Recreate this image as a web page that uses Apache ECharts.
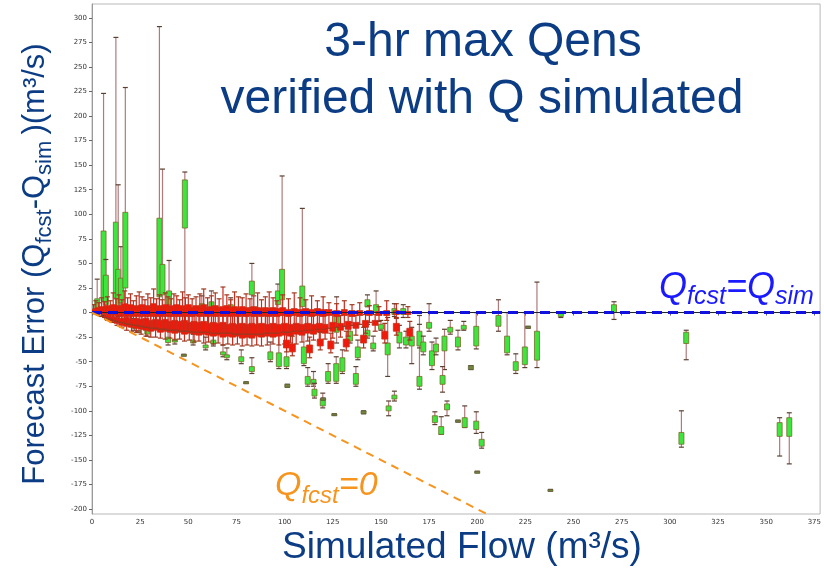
<!DOCTYPE html>
<html>
<head>
<meta charset="utf-8">
<script src="https://cdn.jsdelivr.net/npm/echarts@6/dist/echarts.min.js"></script>
<style>
  html, body { margin: 0; padding: 0; background: #fff; }
  #main { width: 824px; height: 569px; }
</style>
</head>
<body>
<div id="main"></div>
<script>
// tick labels
var xTicks = [0, 25, 50, 75, 100, 125, 150, 175, 200, 225, 250, 275, 300, 325, 350, 375];
var yTicks = [-200, -175, -150, -125, -100, -75, -50, -25, 0, 25, 50, 75, 100, 125, 150, 175, 200, 225, 250, 275, 300];

// ensemble boxes: [Qsim, min, q1, q3, max]
var greenBoxes = [
    [2.7, -2, 3, 14, 34], [6.0, -3, 12, 83, 223], [7.2, 0, 8, 38, 54],
    [12.4, 0, 15, 92, 280], [13.6, -4, 6, 44, 130], [15.0, 2, 10, 35, 67],
    [17.3, 0, 25, 102, 229], [35.0, 2, 16, 96, 291], [36.6, 0, 18, 49, 146],
    [40.0, -3, 8, 22, 53], [48.2, 5, 86, 135, 143], [83.0, 5, 18, 32, 50],
    [96.5, 0, 8, 22, 29], [98.7, 2, 13, 44, 139], [109.2, 0, 6, 27, 106],
    [127, -31, -20, -3, 16], [57, 0, 3, 9, 17], [62, 1, 4, 11, 22], [72, 0, 3, 8, 15],
    [22, -18, -16, -12, -6], [28.7, -24, -22, -17, -12], [39.5, -33, -30.5, -25, -18],
    [43, -32, -30, -27, -20], [52.5, -33, -31, -28, -22], [59, -38, -36, -33, -25],
    [63, -34, -32, -28, -20], [68, -45, -43, -40, -33], [70, -48, -46, -43, -36],
    [77.5, -52, -50, -45, -38], [83, -62, -60, -55, -46], [92.6, -50, -48, -40, -30],
    [97, -57, -55, -41, -17], [101, -57, -55, -45, -35], [110, -54, -52, -35, -20],
    [112, -75, -73, -65, -56], [115, -75, -73, -68, -60], [115.5, -87, -85, -78, -72],
    [119.8, -97, -95, -88, -82], [122.6, -72, -70, -60, -52], [126.8, -72, -70, -52, -45],
    [130, -62, -60, -46, -38], [134, -31, -29, -19, -10], [137, -75, -73, -62, -55],
    [138, -48, -46, -35, -28], [143, 6, 6, 13, 18], [143, -26, -24, -18, -12],
    [146, -39, -37, -31, -24], [147.5, -2, 1, 8, 22], [150, -18, -17, -12, -8],
    [153.5, -65, -43, -31, -5], [154, -105, -100, -95, -90], [157, -90, -88, -84, -80],
    [157, -4, -2, 4, 9], [159.6, -36, -31, -20, -13], [161.6, -5, -2, 4, 8],
    [163, -36, -33, -25, -19], [166, -52, -34, -24, -15], [170, -78, -75, -65, -3],
    [170, -36, -34, -19, -12], [172, -43, -40, -30, -24], [175, -19, -16, -10, 9],
    [176.5, -58, -54, -39, -30], [178, -114, -112, -105, -101], [178.6, -43, -40, -32, -26],
    [181.3, -124, -124, -116, -106], [183, -58, -39, -24, -17], [182, -81, -73, -64, -55],
    [184.3, -105, -99, -93, -90], [186, -22, -20, -15, -8], [190, -38, -35, -25, -18],
    [193.5, -117, -117, -107, -95], [193, -18, -17, -13, -9], [199.5, -37, -34, -14, 0],
    [199.5, -123, -119, -110.5, -101], [202.3, -138, -136, -129, -122],
    [211, -19, -14, -3, 13], [215.5, -43, -41, -24, 0], [220, -62, -59, -50, -42],
    [224.7, -56, -53, -35, 0], [231, -56, -48.5, -19, 31], [243.4, -5, -4, -1, 1],
    [271, -7, 0, 8, 11], [306, -137, -134, -122, -100], [308.5, -48, -31.5, -20, -18],
    [357, -146, -126, -112, -107], [362, -154, -126, -107, -102]
];

// single-member (tiny) boxes
var tinyBoxes = [
    [24, -20, -20, -18.5, -18.5], [47.7, -44, -44, -42.5, -42.5], [80, -72, -72, -70.5, -70.5],
    [101.4, -76, -76, -73, -73], [120, -89, -89, -87, -87], [125.8, -104.5, -104.5, -103, -103],
    [141, -103, -103, -100, -100], [190, -111.5, -111.5, -109.5, -109.5], [196.7, -58, -58, -54, -54],
    [200, -163, -163, -161.5, -161.5], [226.4, -16, -16, -14, -14], [238, -181.5, -181.5, -180, -180]
];

// dense low-flow cluster, upper layer
var redUpper = [
    [0.8, -0.5, 0, 3, 8], [2, -1.5, -0.5, 4, 12], [3.5, -2.5, -1, 5, 10], [5, -4, -1, 6, 15],
    [6.5, -5, -2, 4, 11], [8, -6, -2, 7, 16], [9.5, -7, -3, 5, 12], [11, -8, -2, 8, 20],
    [12.5, -9, -3, 6, 14], [14, -10, -3, 7, 18], [15.5, -10, -4, 5, 13], [17, -11, -2, 9, 22],
    [18.5, -12, -4, 6, 15], [20, -12, -3, 8, 19], [21.5, -13, -4, 5, 12], [23, -13, -3, 7, 17],
    [24.5, -14, -4, 6, 21], [26, -14, -3, 8, 16], [27.5, -15, -4, 5, 13], [29, -15, -3, 7, 19],
    [30.5, -16, -4, 6, 15], [32, -16, -3, 9, 24], [33.5, -16, -4, 5, 14], [35, -17, -3, 7, 18],
    [36.5, -17, -4, 6, 13], [38, -17, -3, 8, 20], [39.5, -18, -4, 5, 16], [41, -18, -3, 7, 14],
    [42.5, -18, -4, 6, 19], [44, -18, -3, 8, 17], [45.5, -19, -4, 5, 13], [47, -19, -3, 7, 21],
    [48.5, -19, -4, 6, 15], [50, -19, -3, 8, 18], [52, -20, -4, 5, 14], [54, -20, -3, 7, 16],
    [56, -20, -4, 6, 19], [58, -20, -3, 8, 24], [60, -20, -4, 5, 15], [62, -21, -3, 6, 17],
    [64, -21, -4, 7, 20], [66, -21, -3, 5, 14], [68, -21, -4, 6, 26], [70, -21, -3, 7, 18],
    [72, -21, -4, 5, 13], [74, -22, -3, 6, 21], [76, -22, -4, 4, 16], [78, -22, -3, 6, 15],
    [80, -22, -4, 5, 19], [82, -22, -3, 4, 14], [84, -22, -4, 6, 17], [86, -22, -3, 5, 20],
    [88, -22, -4, 4, 13], [90, -21, -3, 5, 16], [92, -21, -4, 4, 21], [94, -21, -3, 5, 15],
    [96, -21, -4, 4, 12], [99, -20, -3, 5, 18], [102, -20, -4, 3, 14], [105, -19, -3, 4, 20],
    [108, -19, -4, 3, 15], [111, -18, -3, 4, 13], [114, -18, -4, 3, 17], [117, -17, -3, 4, 12],
    [120, -17, -4, 3, 16], [123, -16, -3, 3, 10], [127, -15, -4, 2, 9], [131, -14, -3, 3, 12],
    [135, -13, -4, 2, 8], [139, -12, -3, 2, 10], [144, -10, -3, 2, 7], [149, -9, -3, 1, 6],
    [153, -8, -3, 2, 12], [158, -6, -2, 2, 9], [164, -5, -2, 1, 6]
];

// dense low-flow cluster, lower layer
var redLower = [
    [8, -8, -7, -3, 0], [10.5, -10, -9, -4, -1], [13, -13, -11, -5, -1], [15.5, -15, -13, -6, -2],
    [18, -18, -14, -5, -1], [20.5, -19, -15, -7, -2], [23, -20, -16, -6, -2], [25.5, -22, -17, -7, -2],
    [28, -24, -18, -6, -1], [30.5, -25, -19, -8, -2], [33, -25, -18, -7, -2], [35.5, -26, -20, -8, -3],
    [38, -27, -19, -7, -2], [40.5, -26, -20, -9, -3], [43, -28, -21, -8, -2], [45.5, -27, -20, -9, -3],
    [48, -29, -22, -8, -2], [50.5, -28, -21, -10, -3], [53, -30, -22, -9, -2], [55.5, -29, -23, -10, -3],
    [58, -31, -22, -9, -2], [60.5, -30, -23, -11, -3], [63, -32, -24, -10, -2], [65.5, -31, -23, -11, -3],
    [68, -33, -25, -10, -2], [70.5, -32, -24, -12, -3], [73, -33, -25, -11, -2], [75.5, -32, -24, -12, -3],
    [78, -34, -26, -11, -2], [80.5, -33, -25, -12, -3], [83, -34, -26, -11, -2], [85.5, -33, -24, -12, -3],
    [88, -34, -25, -11, -2], [91, -33, -24, -12, -3], [94, -32, -25, -11, -2], [97, -33, -24, -12, -3],
    [100, -32, -23, -11, -2], [103, -31, -24, -12, -3], [106, -32, -22, -11, -2], [109, -30, -23, -12, -3],
    [112, -29, -21, -11, -2], [115, -28, -22, -12, -3], [118, -29, -20, -11, -2], [121, -27, -21, -12, -3],
    [125, -26, -19, -10, -2], [129, -25, -18, -11, -3], [133, -24, -17, -9, -2], [137, -23, -16, -10, -3],
    [142, -21, -15, -8, -2], [147, -19, -13, -8, -2],
    [101, -40, -36, -28, -20], [104, -44, -40, -32, -24], [113, -46, -41, -33, -25], [118.5, -38, -34, -27, -20],
    [124, -41, -37, -29, -21], [132, -39, -35, -27, -19], [141, -36, -31, -23, -15], [152, -31, -27, -19, -11],
    [158, -23, -19, -11, -5], [165, -28, -24, -16, -9]
];

// reference lines
var perfectLine = [[0, 0], [378, 0]];
var zeroFcstLine = [[0, 0], [210, -210]];

var navy = '#0b3c84';
var font = "'Liberation Sans', Arial, sans-serif";

function boxRenderer(fill, border, whisker, cap, w) {
    return function(params, api) {
        var x = api.value(0);
        var lo = api.coord([x, api.value(1)]);
        var q1 = api.coord([x, api.value(2)]);
        var q3 = api.coord([x, api.value(3)]);
        var hi = api.coord([x, api.value(4)]);
        var c = 2.5;
        var h = Math.max(q1[1] - q3[1], 2);
        return {
            type: 'group',
            children: [
                { type: 'line', shape: { x1: hi[0], y1: hi[1], x2: lo[0], y2: lo[1] }, style: { stroke: whisker, lineWidth: 1.2 } },
                { type: 'line', shape: { x1: hi[0] - c, y1: hi[1], x2: hi[0] + c, y2: hi[1] }, style: { stroke: cap, lineWidth: 1.2 } },
                { type: 'line', shape: { x1: lo[0] - c, y1: lo[1], x2: lo[0] + c, y2: lo[1] }, style: { stroke: cap, lineWidth: 1.2 } },
                { type: 'rect', shape: { x: q3[0] - w / 2, y: q3[1], width: w, height: h }, style: { fill: fill, stroke: border, lineWidth: 0.8 } }
            ]
        };
    };
}

function boxSeries(data, render, z) {
    return {
        type: 'custom',
        data: data,
        encode: { x: 0, y: [1, 2, 3, 4] },
        renderItem: render,
        clip: true,
        z: z,
        silent: true
    };
}

var chart = echarts.init(document.getElementById('main'));

var option = {
    animation: false,
    backgroundColor: '#fff',
    grid: { left: 92, right: 2, top: 4, bottom: 55, show: true, borderColor: '#b8b8b8', borderWidth: 1 },
    xAxis: {
        type: 'value', min: 0, max: 378,
        axisLine: { show: true, lineStyle: { color: '#999' } },
        axisTick: { show: true, length: 3, customValues: xTicks, lineStyle: { color: '#666' } },
        axisLabel: { customValues: xTicks, fontSize: 7, color: '#333', fontFamily: 'DejaVu Sans', margin: 5 },
        splitLine: { show: false }
    },
    yAxis: {
        type: 'value', min: -205, max: 314,
        axisLine: { show: true, lineStyle: { color: '#999' } },
        axisTick: { show: true, length: 3, customValues: yTicks, lineStyle: { color: '#666' } },
        axisLabel: { customValues: yTicks, fontSize: 7, color: '#333', fontFamily: 'DejaVu Sans', margin: 5 },
        splitLine: { show: false }
    },
    series: [
        boxSeries(greenBoxes, boxRenderer('#3de63d', '#7a6a2a', '#b07a7a', '#5a4030', 5), 2),
        boxSeries(tinyBoxes, boxRenderer('#6a8a3a', '#6b5a3a', '#8a6a5a', '#5a4a3a', 5), 2),
        boxSeries(redLower, boxRenderer('#f01a0a', '#c8301a', '#d0281a', '#9a3a20', 6), 3),
        boxSeries(redUpper, boxRenderer('#f01a0a', '#c8301a', '#d0281a', '#9a3a20', 6), 3),
        {
            type: 'line', data: perfectLine, symbol: 'none', z: 4, silent: true,
            lineStyle: { color: '#222', width: 1 }
        },
        {
            type: 'line', data: perfectLine, symbol: 'none', z: 5, silent: true,
            lineStyle: { color: '#1010e0', width: 3, type: [10, 6] }
        },
        {
            type: 'line', data: zeroFcstLine, symbol: 'none', z: 5, silent: true,
            lineStyle: { color: '#f7941d', width: 2, type: [8, 6] }
        }
    ],
    graphic: [
        {
            type: 'text', x: 483, y: 19, z: 10,
            style: { text: '3-hr max Qens', font: '48px ' + font, fill: navy, textAlign: 'center', align: 'center', textVerticalAlign: 'top', verticalAlign: 'top' }
        },
        {
            type: 'text', x: 482, y: 76, z: 10,
            style: { text: 'verified with Q simulated', font: '48px ' + font, fill: navy, textAlign: 'center', align: 'center', textVerticalAlign: 'top', verticalAlign: 'top' }
        },
        {
            type: 'text', x: 462, y: 529, z: 10,
            style: { text: 'Simulated Flow (m³/s)', font: '37px ' + font, fill: navy, textAlign: 'center', align: 'center', textVerticalAlign: 'top', verticalAlign: 'top' }
        },
        {
            type: 'text', x: 20, y: 264, rotation: Math.PI / 2, z: 10,
            style: {
                text: '{a|Forecast Error (Q}{s|fcst}{a|-Q}{s|sim }{a|)(m³/s)}',
                textAlign: 'center', align: 'center', textVerticalAlign: 'top', verticalAlign: 'top',
                rich: {
                    a: { fontSize: 31, fontFamily: 'Liberation Sans', fill: navy, lineHeight: 31, verticalAlign: 'top' },
                    s: { fontSize: 22, fontFamily: 'Liberation Sans', fill: navy, lineHeight: 22, verticalAlign: 'top', padding: [14, 0, 0, 0] }
                }
            }
        },
        {
            type: 'text', x: 659, y: 270, z: 10,
            style: {
                text: '{a|Q}{s|fcst}{a|=Q}{s|sim}',
                textAlign: 'left', align: 'left', textVerticalAlign: 'top', verticalAlign: 'top',
                rich: {
                    a: { fontSize: 36, fontFamily: 'Liberation Sans', fontStyle: 'italic', fill: '#1a1aff', lineHeight: 36, verticalAlign: 'top' },
                    s: { fontSize: 25, fontFamily: 'Liberation Sans', fontStyle: 'italic', fill: '#1a1aff', lineHeight: 25, verticalAlign: 'top', padding: [15, 0, 0, 0] }
                }
            }
        },
        {
            type: 'text', x: 275, y: 469, z: 10,
            style: {
                text: '{a|Q}{s|fcst}{a|=0}',
                textAlign: 'left', align: 'left', textVerticalAlign: 'top', verticalAlign: 'top',
                rich: {
                    a: { fontSize: 34, fontFamily: 'Liberation Sans', fontStyle: 'italic', fill: '#f7941d', lineHeight: 34, verticalAlign: 'top' },
                    s: { fontSize: 24, fontFamily: 'Liberation Sans', fontStyle: 'italic', fill: '#f7941d', lineHeight: 24, verticalAlign: 'top', padding: [15, 0, 0, 0] }
                }
            }
        }
    ]
};

chart.setOption(option);
</script>
</body>
</html>
